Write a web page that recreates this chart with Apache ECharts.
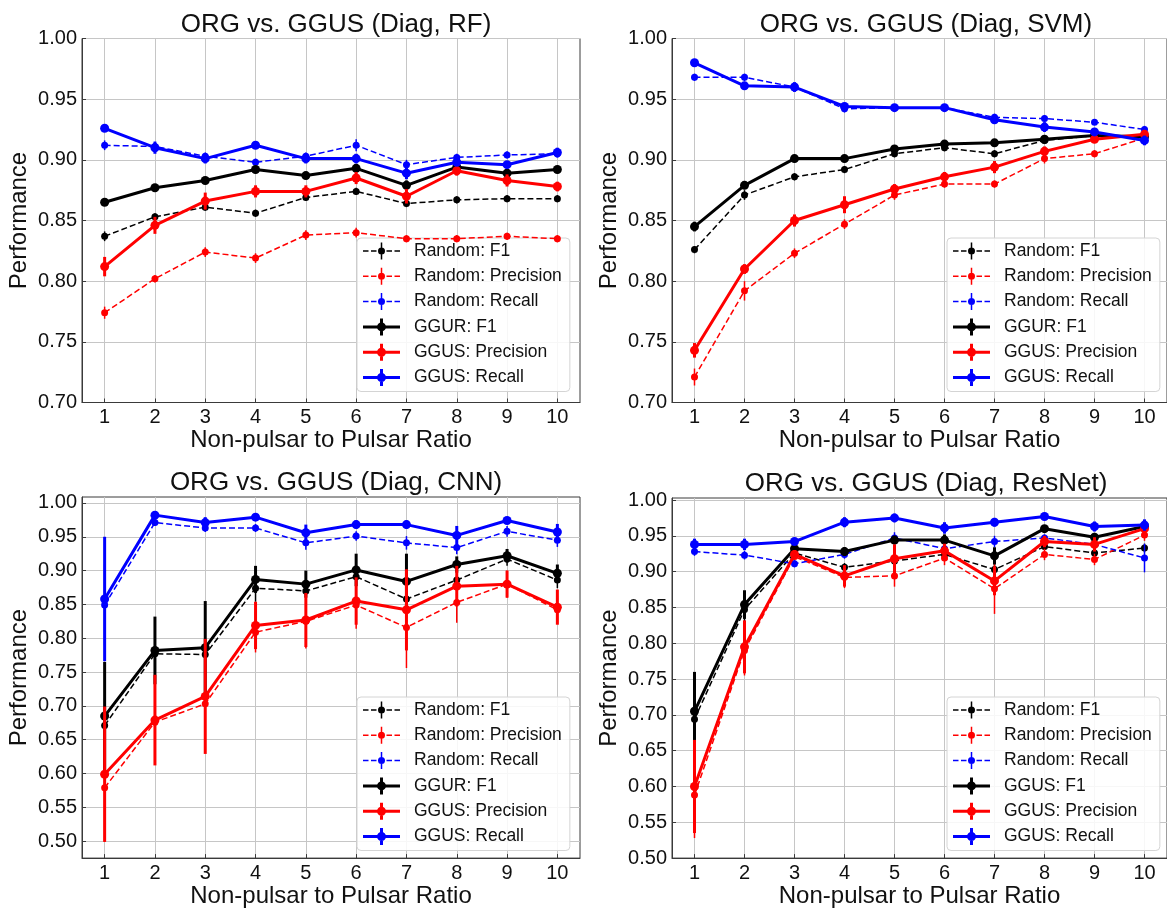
<!DOCTYPE html>
<html>
<head>
<meta charset="utf-8">
<script src="https://cdn.jsdelivr.net/npm/echarts@6/dist/echarts.min.js"></script>
<style>
  html, body { margin: 0; padding: 0; background: #fff; }
  #chart { width: 1167px; height: 909px; }
</style>
</head>
<body>
<div id="chart"></div>
<script>
  // x categories and tick labels
  const ratios = [1, 2, 3, 4, 5, 6, 7, 8, 9, 10]
  const yTicksTop = [0.70, 0.75, 0.80, 0.85, 0.90, 0.95, 1.00]
  const yTicksBottom = [0.50, 0.55, 0.60, 0.65, 0.70, 0.75, 0.80, 0.85, 0.90, 0.95, 1.00]

  const titles = ['ORG vs. GGUS (Diag, RF)', 'ORG vs. GGUS (Diag, SVM)', 'ORG vs. GGUS (Diag, CNN)', 'ORG vs. GGUS (Diag, ResNet)']

  // RF
  const rfRandF1 = [0.837, 0.853, 0.861, 0.856, 0.869, 0.874, 0.864, 0.867, 0.868, 0.868]
  const rfRandF1Err = [0.004, 0.003, 0.003, 0.003, 0.003, 0.003, 0.003, 0.003, 0.003, 0.003]
  const rfRandPrec = [0.774, 0.802, 0.824, 0.819, 0.838, 0.840, 0.835, 0.835, 0.837, 0.835]
  const rfRandPrecErr = [0.005, 0.003, 0.004, 0.004, 0.004, 0.004, 0.003, 0.003, 0.003, 0.003]
  const rfRandRec = [0.912, 0.911, 0.903, 0.898, 0.903, 0.912, 0.896, 0.902, 0.904, 0.905]
  const rfRandRecErr = [0.004, 0.004, 0.003, 0.003, 0.003, 0.005, 0.004, 0.003, 0.003, 0.003]
  const rfGgF1 = [0.865, 0.877, 0.883, 0.892, 0.887, 0.893, 0.879, 0.894, 0.889, 0.892]
  const rfGgF1Err = [0.003, 0.003, 0.003, 0.003, 0.003, 0.003, 0.004, 0.003, 0.003, 0.003]
  const rfGgPrec = [0.812, 0.846, 0.866, 0.874, 0.874, 0.885, 0.870, 0.891, 0.883, 0.878]
  const rfGgPrecErr = [0.008, 0.007, 0.007, 0.005, 0.005, 0.005, 0.006, 0.004, 0.005, 0.004]
  const rfGgRec = [0.926, 0.910, 0.901, 0.912, 0.901, 0.901, 0.889, 0.898, 0.896, 0.906]
  const rfGgRecErr = [0.003, 0.005, 0.004, 0.003, 0.004, 0.004, 0.005, 0.003, 0.003, 0.004]

  // SVM
  const svmRandF1 = [0.826, 0.871, 0.886, 0.892, 0.905, 0.910, 0.905, 0.916, 0.920, 0.919]
  const svmRandF1Err = [0.003, 0.004, 0.003, 0.003, 0.003, 0.003, 0.003, 0.003, 0.002, 0.002]
  const svmRandPrec = [0.721, 0.792, 0.823, 0.847, 0.871, 0.880, 0.880, 0.901, 0.905, 0.918]
  const svmRandPrecErr = [0.007, 0.008, 0.004, 0.004, 0.004, 0.003, 0.003, 0.004, 0.003, 0.003]
  const svmRandRec = [0.968, 0.968, 0.960, 0.942, 0.943, 0.943, 0.935, 0.934, 0.931, 0.925]
  const svmRandRecErr = [0.003, 0.003, 0.003, 0.003, 0.002, 0.002, 0.003, 0.003, 0.002, 0.003]
  const svmGgF1 = [0.845, 0.879, 0.901, 0.901, 0.909, 0.913, 0.914, 0.917, 0.920, 0.919]
  const svmGgF1Err = [0.004, 0.003, 0.003, 0.003, 0.003, 0.003, 0.003, 0.002, 0.002, 0.003]
  const svmGgPrec = [0.743, 0.810, 0.850, 0.863, 0.876, 0.886, 0.894, 0.907, 0.917, 0.921]
  const svmGgPrecErr = [0.006, 0.004, 0.005, 0.007, 0.004, 0.004, 0.005, 0.004, 0.003, 0.003]
  const svmGgRec = [0.980, 0.961, 0.960, 0.944, 0.943, 0.943, 0.933, 0.927, 0.923, 0.916]
  const svmGgRecErr = [0.002, 0.003, 0.004, 0.003, 0.002, 0.002, 0.003, 0.004, 0.002, 0.004]

  // CNN
  const cnnRandF1 = [0.671, 0.777, 0.776, 0.874, 0.870, 0.891, 0.858, 0.886, 0.917, 0.886]
  const cnnRandF1Err = [0.04, 0.04, 0.05, 0.02, 0.02, 0.02, 0.03, 0.02, 0.01, 0.012]
  const cnnRandPrec = [0.579, 0.676, 0.703, 0.809, 0.825, 0.849, 0.816, 0.853, 0.880, 0.842]
  const cnnRandPrecErr = [0.08, 0.06, 0.07, 0.03, 0.04, 0.035, 0.06, 0.03, 0.02, 0.02]
  const cnnRandRec = [0.849, 0.971, 0.963, 0.963, 0.941, 0.951, 0.941, 0.934, 0.958, 0.945]
  const cnnRandRecErr = [0.06, 0.005, 0.006, 0.006, 0.01, 0.007, 0.01, 0.01, 0.008, 0.01]
  const cnnGgF1 = [0.685, 0.782, 0.786, 0.887, 0.880, 0.901, 0.884, 0.909, 0.922, 0.896]
  const cnnGgF1Err = [0.08, 0.05, 0.069, 0.02, 0.02, 0.024, 0.041, 0.012, 0.01, 0.013]
  const cnnGgPrec = [0.599, 0.679, 0.714, 0.819, 0.827, 0.855, 0.842, 0.877, 0.880, 0.846]
  const cnnGgPrecErr = [0.1, 0.067, 0.085, 0.035, 0.04, 0.035, 0.06, 0.03, 0.02, 0.026]
  const cnnGgRec = [0.858, 0.982, 0.971, 0.979, 0.956, 0.968, 0.968, 0.952, 0.974, 0.957]
  const cnnGgRecErr = [0.092, 0.005, 0.008, 0.005, 0.012, 0.006, 0.006, 0.014, 0.005, 0.012]

  // ResNet
  const resRandF1 = [0.694, 0.847, 0.926, 0.906, 0.915, 0.924, 0.903, 0.935, 0.926, 0.933]
  const resRandF1Err = [0.04, 0.02, 0.005, 0.006, 0.006, 0.006, 0.01, 0.005, 0.005, 0.006]
  const resRandPrec = [0.588, 0.790, 0.921, 0.892, 0.894, 0.919, 0.876, 0.924, 0.917, 0.951]
  const resRandPrecErr = [0.06, 0.035, 0.006, 0.015, 0.015, 0.01, 0.035, 0.008, 0.008, 0.008]
  const resRandRec = [0.928, 0.923, 0.911, 0.924, 0.947, 0.932, 0.942, 0.947, 0.938, 0.919]
  const resRandRecErr = [0.006, 0.006, 0.005, 0.006, 0.008, 0.006, 0.008, 0.005, 0.005, 0.02]
  const resGgF1 = [0.705, 0.854, 0.932, 0.928, 0.944, 0.944, 0.922, 0.960, 0.948, 0.963]
  const resGgF1Err = [0.055, 0.02, 0.006, 0.006, 0.006, 0.008, 0.012, 0.005, 0.006, 0.005]
  const resGgPrec = [0.600, 0.795, 0.924, 0.894, 0.918, 0.929, 0.887, 0.942, 0.938, 0.960]
  const resGgPrecErr = [0.065, 0.037, 0.006, 0.015, 0.02, 0.01, 0.02, 0.008, 0.01, 0.006]
  const resGgRec = [0.938, 0.938, 0.942, 0.969, 0.975, 0.961, 0.969, 0.977, 0.963, 0.965]
  const resGgRecErr = [0.008, 0.008, 0.005, 0.007, 0.006, 0.008, 0.006, 0.005, 0.007, 0.008]

  const FONT = '"Liberation Sans", Arial, Helvetica, sans-serif'
  const GRID_LINE = '#c6c6c6'
  const SPINE = '#3a3a3a'

  // legend glyphs: line with marker and a vertical error bar (37 x 17 box)
  const ICON_DASHED = 'path://M0 7.75H5.5V9.25H0Z M8 7.75H13.5V9.25H8Z M23.5 7.75H29V9.25H23.5Z M31.5 7.75H37V9.25H31.5Z ' +
    'M17.75 0H19.25V17H17.75Z M22 8.5A3.5 3.5 0 1 1 15 8.5A3.5 3.5 0 1 1 22 8.5Z'
  const ICON_SOLID = 'path://M0 7H37V10H0Z M17 0H20V17H17Z M23 8.5A4.5 4.5 0 1 1 14 8.5A4.5 4.5 0 1 1 23 8.5Z'

  var myChart = echarts.init(document.getElementById('chart'), null, { renderer: 'canvas' })

  // panel boxes, in pixels
  var panels = [
    { left: 82, top: 38.5, width: 498, height: 364, min: 0.7, max: 1.0, ticks: yTicksTop, legendLeft: 357, legendTop: 238 },
    { left: 672, top: 38.5, width: 498, height: 364, min: 0.7, max: 1.0, ticks: yTicksTop, legendLeft: 947, legendTop: 238 },
    { left: 82, top: 497, width: 498, height: 363, min: 0.475, max: 1.0088, ticks: yTicksBottom, legendLeft: 357, legendTop: 697 },
    { left: 672, top: 498, width: 498, height: 362, min: 0.5, max: 1.0028, ticks: yTicksBottom, legendLeft: 947, legendTop: 697 }
  ]

  var f1Names = ['GGUR: F1', 'GGUR: F1', 'GGUR: F1', 'GGUS: F1']
  var panelData = [
    [rfRandF1, rfRandF1Err, rfRandPrec, rfRandPrecErr, rfRandRec, rfRandRecErr, rfGgF1, rfGgF1Err, rfGgPrec, rfGgPrecErr, rfGgRec, rfGgRecErr],
    [svmRandF1, svmRandF1Err, svmRandPrec, svmRandPrecErr, svmRandRec, svmRandRecErr, svmGgF1, svmGgF1Err, svmGgPrec, svmGgPrecErr, svmGgRec, svmGgRecErr],
    [cnnRandF1, cnnRandF1Err, cnnRandPrec, cnnRandPrecErr, cnnRandRec, cnnRandRecErr, cnnGgF1, cnnGgF1Err, cnnGgPrec, cnnGgPrecErr, cnnGgRec, cnnGgRecErr],
    [resRandF1, resRandF1Err, resRandPrec, resRandPrecErr, resRandRec, resRandRecErr, resGgF1, resGgF1Err, resGgPrec, resGgPrecErr, resGgRec, resGgRecErr]
  ]

  var grids = [], xAxes = [], yAxes = [], titleList = [], legends = [], series = []

  panels.forEach(function (p, k) {
    grids.push({ left: p.left, top: p.top, width: p.width, height: p.height, show: true, borderColor: SPINE, borderWidth: 1, backgroundColor: 'transparent' })
    xAxes.push({
      type: 'value', gridIndex: k, min: 0.55, max: 10.45,
      name: 'Non-pulsar to Pulsar Ratio', nameLocation: 'middle', nameGap: 25,
      nameTextStyle: { fontSize: 24, color: '#111', fontFamily: FONT },
      axisLine: { show: true, lineStyle: { color: SPINE } },
      axisTick: { show: true, inside: true, length: 4, customValues: ratios, lineStyle: { color: SPINE } },
      axisLabel: { customValues: ratios, fontSize: 20, margin: 5, color: '#111', fontFamily: FONT },
      splitLine: { show: true, lineStyle: { color: GRID_LINE, width: 1 } }
    })
    yAxes.push({
      type: 'value', gridIndex: k, min: p.min, max: p.max,
      name: 'Performance', nameLocation: 'middle', nameGap: 51, nameRotate: 90,
      nameTextStyle: { fontSize: 24, color: '#111', fontFamily: FONT },
      axisLine: { show: true, lineStyle: { color: SPINE } },
      axisTick: { show: true, inside: true, length: 4, customValues: p.ticks, lineStyle: { color: SPINE } },
      axisLabel: { customValues: p.ticks, fontSize: 20, margin: 5, color: '#111', fontFamily: FONT,
        formatter: function (v) { return v.toFixed(2) } },
      splitLine: { show: true, lineStyle: { color: GRID_LINE, width: 1 } }
    })
    titleList.push({
      text: titles[k], left: p.left + p.width / 2, top: p.top - 32, textAlign: 'center',
      textStyle: { fontSize: 26, fontWeight: 'normal', color: '#111', fontFamily: FONT }
    })

    var d = panelData[k]
    var defs = [
      { name: 'Random: F1', mean: d[0], err: d[1], color: '#000000', dashed: true },
      { name: 'Random: Precision', mean: d[2], err: d[3], color: '#ff0000', dashed: true },
      { name: 'Random: Recall', mean: d[4], err: d[5], color: '#0000ff', dashed: true },
      { name: f1Names[k], mean: d[6], err: d[7], color: '#000000', dashed: false },
      { name: 'GGUS: Precision', mean: d[8], err: d[9], color: '#ff0000', dashed: false },
      { name: 'GGUS: Recall', mean: d[10], err: d[11], color: '#0000ff', dashed: false }
    ]

    defs.forEach(function (s, j) {
      const w = s.dashed ? 1.5 : 3
      series.push({
        type: 'custom',
        xAxisIndex: k, yAxisIndex: k,
        silent: true,
        z: 2 + j * 2,
        encode: { x: 0, y: [1, 2] },
        data: ratios.map(function (r, i) { return [r, s.mean[i] - s.err[i], s.mean[i] + s.err[i]] }),
        renderItem: function (params, api) {
          const a = api.coord([api.value(0), api.value(1)])
          const b = api.coord([api.value(0), api.value(2)])
          return { type: 'line', shape: { x1: a[0], y1: a[1], x2: b[0], y2: b[1] }, style: { stroke: s.color, lineWidth: w } }
        }
      })
      series.push({
        type: 'line',
        name: s.name,
        xAxisIndex: k, yAxisIndex: k,
        z: 3 + j * 2,
        data: ratios.map(function (r, i) { return [r, s.mean[i]] }),
        symbol: 'circle',
        symbolSize: s.dashed ? 7 : 9,
        showAllSymbol: true,
        lineStyle: { color: s.color, width: w, type: s.dashed ? [6, 3] : 'solid' },
        itemStyle: { color: s.color },
        emphasis: { disabled: true }
      })
    })

    legends.push({
      orient: 'vertical', left: p.legendLeft, top: p.legendTop,
      data: defs.map(function (s) { return { name: s.name, icon: s.dashed ? ICON_DASHED : ICON_SOLID } }),
      itemWidth: 37, itemHeight: 17, itemGap: 7.3,
      selectedMode: false,
      itemStyle: { borderWidth: 0 },
      textStyle: { fontSize: 17.5, color: '#111', fontFamily: FONT, lineHeight: 17.5, padding: [0, 0, 0, 9] },
      backgroundColor: 'rgba(255,255,255,0.85)',
      borderColor: '#d4d4d4', borderWidth: 1, borderRadius: 4,
      padding: [4, 8, 5, 6]
    })
  })

  var option = {
    backgroundColor: '#ffffff',
    animation: false,
    title: titleList,
    legend: legends,
    grid: grids,
    xAxis: xAxes,
    yAxis: yAxes,
    series: series
  }
  myChart.setOption(option)
</script>
</body>
</html>
